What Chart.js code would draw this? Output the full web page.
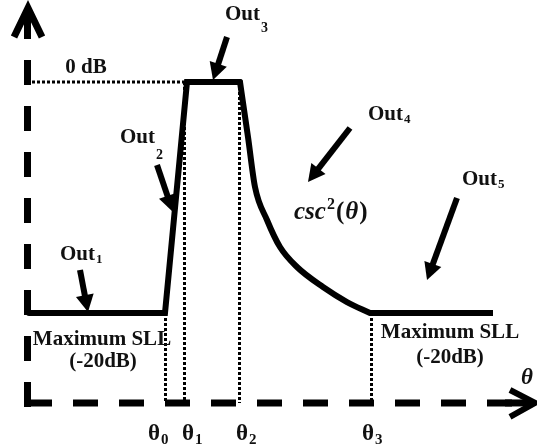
<!DOCTYPE html>
<html>
<head>
<meta charset="utf-8">
<script src="https://cdn.jsdelivr.net/npm/chart.js@4.4.1/dist/chart.umd.min.js"></script>
<style>
  html,body{margin:0;padding:0;background:#fff}
  #wrap{width:537px;height:448px;position:relative}
</style>
</head>
<body>
<div id="wrap"><canvas id="c"></canvas></div>
<script>
// x = theta (drawing units), y = level in dB
const DB_MAX = 7.1, DB_MIN = -31.69;
const TH_MIN = 0, TH_MAX = 537;

// mask: side lobe floor, main beam rise, flat top
const maskLeft  = [[29,-20],[165,-20],[187,0],[240,0]];
// csc^2 shaped fall-off
const maskCsc   = [[240,0],[243,-1.8],[248,-4.76],[255,-9.09],[267,-11.95],[280,-14.29],[297,-16.02],[323,-17.75],[347,-19.05],[370,-20]];
const maskRight = [[370,-20],[493,-20]];

// dotted guides
const thetaMarks = [165.5, 184.5, 239.5, 371.5];
const thetaTops  = [-20, 0, 0, -20];
const axisLevel  = -27.79;
const zeroGuide  = [[32,0],[187,0]];

// axes
const yAxisLine  = [[27.5,-28.14],[27.5,6.23]];
const yAxisHead  = [[14,3.9],[28,6.4],[42,3.9]];
const xAxisLine  = [[27,axisLevel],[512,axisLevel]];
const xAxisHead  = [[510,-26.67],[535,axisLevel],[510,-29.0]];
const xAxisTail  = [[505,axisLevel],[533,axisLevel]];

// callout arrows: [x0,y0,xTip,yTip]
const callouts = [
  [80,-16.28,88,-19.91],
  [157,-7.19,173,-11.26],
  [227,3.90,213,0.17],
  [350,-3.98,308,-8.66],
  [457,-10.04,427,-17.14]
];

// texts: [text, sub, x, y, size, style, align, subSize, subDy]
const SERIF = "'Liberation Serif','Times New Roman',serif";
const texts = [
  ['0 dB','',86,1.21,21,'bold','center'],
  ['Out','3',225,5.80,21,'bold','left',14,13],
  ['Out','2',120,-4.85,21,'bold','left',14,17],
  ['Out','1',60,-14.98,21,'bold','left',13,5],
  ['Out','4',368,-2.86,21,'bold','left',13,5],
  ['Out','5',462,-8.48,21,'bold','left',13,5],
  ['Maximum SLL','',102,-22.34,21,'bold','center'],
  ['(-20dB)','',103,-24.24,21,'bold','center'],
  ['Maximum SLL','',450,-21.73,21,'bold','center'],
  ['(-20dB)','',450,-23.90,21,'bold','center'],
  ['\u03b8','',527,-25.63,23,'italic bold','center'],
  ['\u03b8','0',148,-30.48,23,'bold','left',15,6],
  ['\u03b8','1',182,-30.48,23,'bold','left',15,6],
  ['\u03b8','2',236,-30.48,23,'bold','left',15,6],
  ['\u03b8','3',362,-30.48,23,'bold','left',15,6]
];
// csc^2(theta) label, pieces: [text, style, size, dy]
const mathAt = [294,-11.3];
const mathPieces = [
  ['csc','italic bold',25,0],
  ['2','bold',16,-8],
  ['(','bold',25,0],
  ['\u03b8','italic bold',25,0],
  [')','bold',25,0]
];

const pts = a => a.map(([x,y]) => ({x,y}));
const line = (a, extra) => Object.assign({
  data: pts(a), showLine:true, pointRadius:0, borderColor:'#000',
  borderWidth:6, fill:false, tension:0, borderJoinStyle:'miter', clip:false
}, extra);

const dotted = {borderWidth:3, borderDash:[3,2], borderColor:'#000'};
const datasets = [
  line(maskLeft,  {borderCapStyle:'round'}),
  line(maskCsc,   {cubicInterpolationMode:'monotone', borderCapStyle:'round'}),
  line(maskRight, {borderCapStyle:'butt'}),
  line(yAxisLine, {borderWidth:7, borderDash:[25,21]}),
  line(yAxisHead, {borderWidth:7}),
  line(xAxisLine, {borderWidth:7, borderDash:[25,21]}),
  line(xAxisTail, {borderWidth:7}),
  line(xAxisHead, {borderWidth:6}),
  line(zeroGuide, dotted),
  ...thetaMarks.map((t,i) => line([[t,thetaTops[i]],[t,axisLevel]], dotted))
];

const sketch = {
  id:'sketch',
  afterDatasetsDraw(chart){
    const ctx = chart.ctx, X = chart.scales.x, Y = chart.scales.y;
    const px = v => X.getPixelForValue(v), py = v => Y.getPixelForValue(v);
    ctx.save();
    // callout arrows
    ctx.fillStyle = '#000'; ctx.strokeStyle = '#000';
    callouts.forEach(([x0,y0,x1,y1])=>{
      const ax=px(x0), ay=py(y0), bx=px(x1), by=py(y1);
      const a = Math.atan2(by-ay, bx-ax), L=17, W=9;
      const hx = bx - L*Math.cos(a), hy = by - L*Math.sin(a);
      ctx.lineWidth = 6; ctx.lineCap='butt';
      ctx.beginPath(); ctx.moveTo(ax,ay); ctx.lineTo(hx+2*Math.cos(a),hy+2*Math.sin(a)); ctx.stroke();
      ctx.beginPath();
      ctx.moveTo(bx,by);
      ctx.lineTo(hx - W*Math.sin(a), hy + W*Math.cos(a));
      ctx.lineTo(hx + W*Math.sin(a), hy - W*Math.cos(a));
      ctx.closePath(); ctx.fill();
    });
    // texts
    ctx.fillStyle = '#111'; ctx.textBaseline = 'middle';
    texts.forEach(([t,sub,x,y,size,style,align,subSize,subDy])=>{
      ctx.font = style+' '+size+'px '+SERIF;
      ctx.textAlign = align;
      const X0 = px(x), Y0 = py(y);
      ctx.fillText(t, X0, Y0);
      if(sub){
        const w = ctx.measureText(t).width;
        ctx.font = 'bold '+subSize+'px '+SERIF;
        ctx.textAlign = 'left';
        ctx.fillText(sub, X0 + w + 1, Y0 + subDy);
      }
    });
    // csc^2(theta)
    let mx = px(mathAt[0]); const my = py(mathAt[1]);
    ctx.textAlign = 'left';
    mathPieces.forEach(([t,style,size,dy])=>{
      ctx.font = style+' '+size+'px '+SERIF;
      ctx.fillText(t, mx, my+dy);
      mx += ctx.measureText(t).width + 1;
    });
    ctx.restore();
  }
};

new Chart(document.getElementById('c'), {
  type:'scatter',
  data:{ datasets },
  options:{
    responsive:true, maintainAspectRatio:false, animation:false, events:[],
    layout:{ padding:0 },
    plugins:{ legend:{display:false}, tooltip:{enabled:false} },
    scales:{
      x:{ type:'linear', min:TH_MIN, max:TH_MAX, display:false },
      y:{ type:'linear', min:DB_MIN, max:DB_MAX, display:false }
    }
  },
  plugins:[sketch]
});
</script>
</body>
</html>
